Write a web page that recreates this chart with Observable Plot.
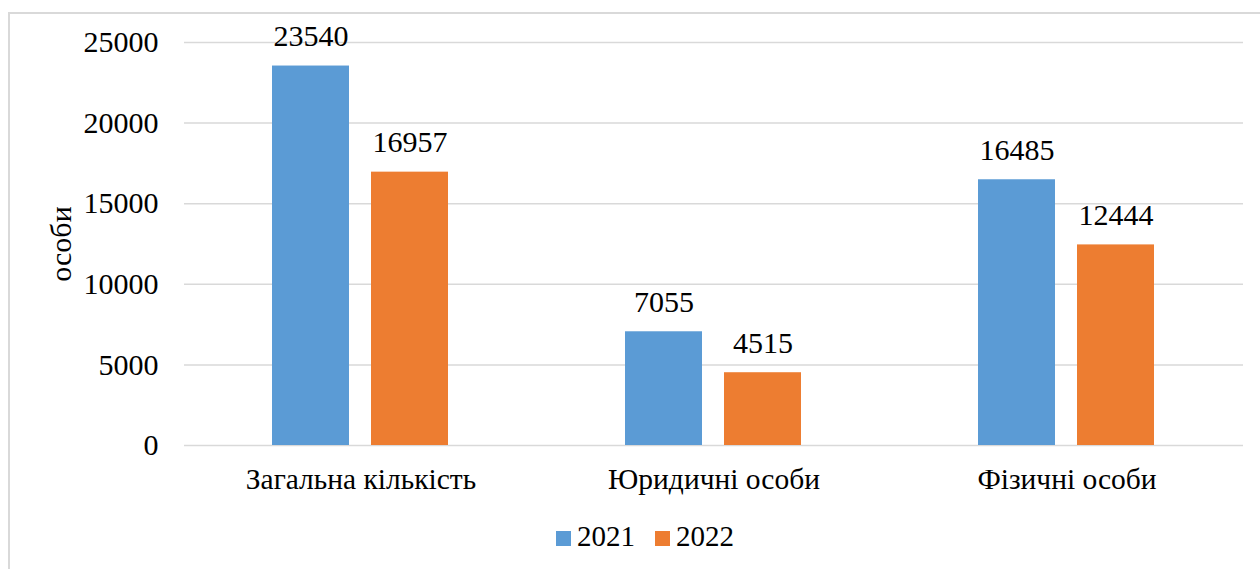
<!DOCTYPE html>
<html>
<head>
<meta charset="utf-8">
<script src="https://cdn.jsdelivr.net/npm/d3@7"></script>
<script src="https://cdn.jsdelivr.net/npm/@observablehq/plot@0.6"></script>
<style>
  html, body { margin: 0; padding: 0; background: #fff; overflow: hidden; }
  #wrap { position: relative; width: 1260px; height: 569px; font-family: "Liberation Serif", "Times New Roman", serif; }
  #frame { position: absolute; left: 8px; top: 12px; width: 1300px; height: 600px; border: 2px solid #d9d9d9; box-sizing: border-box; }
  #chart { position: absolute; left: 0; top: 0; }
  #legend { position: absolute; top: 518px; left: 0; width: 1290px; display: flex; justify-content: center; align-items: center; font-size: 29px; color: #000; line-height: 36px; }
  .item { display: flex; align-items: center; margin: 0 10px; }
  .sw { width: 15px; height: 15px; margin-right: 6px; margin-top: 4px; }
</style>
</head>
<body>
<div id="wrap">
  <div id="frame"></div>
  <div id="chart"></div>
  <div id="legend"></div>
</div>
<script>
const categories = ["Загальна кількість", "Юридичні особи", "Фізичні особи"];
const years = ["2021", "2022"];
const values2021 = [23540, 7055, 16485];
const values2022 = [16957, 4515, 12444];
const yTicks = [0, 5000, 10000, 15000, 20000, 25000];
const colors = ["#5B9BD5", "#ED7D31"];
const yLabel = "особи";

const data = [];
categories.forEach((c, i) => {
  data.push({category: c, year: years[0], value: values2021[i]});
  data.push({category: c, year: years[1], value: values2022[i]});
});

const font = "\"Liberation Serif\", \"Times New Roman\", serif";

const plot = Plot.plot({
  width: 1260,
  height: 510,
  marginLeft: 183,
  marginRight: 17,
  marginTop: 42,
  marginBottom: 65,
  style: {fontFamily: font, fontSize: "30px", color: "#000", background: "transparent", overflow: "visible"},
  fx: {domain: categories, padding: 0, label: null},
  x: {domain: years, paddingInner: 0.22, paddingOuter: 0.877, axis: null},
  y: {domain: [0, 25000], ticks: yTicks, label: null},
  color: {domain: years, range: colors},
  marks: [
    Plot.gridY(yTicks, {stroke: "#d9d9d9", strokeOpacity: 1, strokeWidth: 1.5}),
    Plot.axisY(yTicks, {tickSize: 0, tickPadding: 26, fontSize: 30, tickFormat: d => String(d), label: yLabel, labelAnchor: "center", labelArrow: "none", labelOffset: 135}),
    Plot.axisFx({anchor: "bottom", tickSize: 0, tickPadding: 23, fontSize: 29.5, label: null}),
    Plot.barY(data, {fx: "category", x: "year", y: "value", fill: "year"}),
    Plot.text(data, {fx: "category", x: "year", y: "value", text: d => String(d.value), lineAnchor: "bottom", dy: -20, fontSize: 30, fill: "#000"})
  ]
});
document.getElementById("chart").appendChild(plot);

const legend = document.getElementById("legend");
years.forEach((y, i) => {
  const item = document.createElement("div");
  item.className = "item";
  const sw = document.createElement("div");
  sw.className = "sw";
  sw.style.background = colors[i];
  const t = document.createElement("span");
  t.textContent = y;
  item.appendChild(sw);
  item.appendChild(t);
  legend.appendChild(item);
});
</script>
</body>
</html>
